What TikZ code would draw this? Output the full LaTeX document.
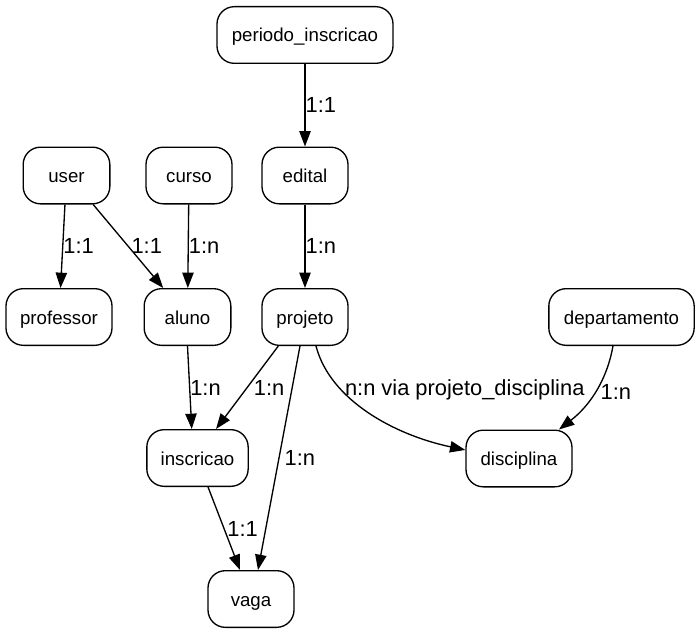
\documentclass[tikz,border=0pt]{standalone}
\usepackage{fontspec}
\setmainfont{Liberation Sans}
\usetikzlibrary{arrows.meta}

\begin{document}
\begin{tikzpicture}[x=0.75pt, y=-0.75pt,
    ent/.style={draw, rounded corners=13pt, line width=1pt, minimum width=64.5pt,
                minimum height=42.5pt, inner xsep=0pt, text height=13pt, text depth=2.5pt,
                font=\fontsize{14}{16}\selectfont},
    arr/.style={-{Triangle[length=11.5pt,width=8.5pt]}, line width=1pt},
    lbl/.style={right, inner sep=0pt, font=\fontsize{16.4}{19}\selectfont}
]
    \useasboundingbox (0,0) rectangle (700,635);

    \node[ent, minimum width=132pt] (per)   at (305,35)    {periodo\_inscricao};
    \node[ent, minimum width=65pt]  (user)  at (66.5,175.5) {user};
    \node[ent]                      (curso) at (189,175.5) {curso};
    \node[ent]                      (edital) at (305,175.5) {edital};
    \node[ent, minimum width=79.5pt] (prof) at (59,317)    {professor};
    \node[ent, minimum width=65pt]  (aluno) at (187.5,317) {aluno};
    \node[ent]                      (proj)  at (305,317)   {projeto};
    \node[ent, minimum width=109pt] (dep)   at (621.5,317) {departamento};
    \node[ent, minimum width=76pt]  (inscr) at (197.5,458) {inscricao};
    \node[ent, minimum width=79.5pt] (disc) at (519,458.5) {disciplina};
    \node[ent]                      (vaga)  at (251,599)   {vaga};

    \draw[arr] (per) -- (edital) node[lbl, midway] {1:1};
    \draw[arr] (edital) -- (proj) node[lbl, midway] {1:n};
    \draw[arr] (user) -- (prof) node[lbl, midway] {1:1};
    \draw[arr] ([xshift=20pt]user.south) -- (aluno) node[lbl, midway, xshift=2pt] {1:1};
    \draw[arr] (curso) -- (aluno) node[lbl, midway] {1:n};
    \draw[arr] (aluno.south) -- ([xshift=-4.3pt]inscr.north) node[lbl, midway] {1:n};
    \draw[arr] ([xshift=-20pt]proj.south) -- ([xshift=13.9pt]inscr.north) node[lbl, midway, xshift=4.5pt] {1:n};
    \draw[arr] ([xshift=-3.75pt]proj.south) -- ([xshift=5.25pt]vaga.north) node[lbl, midway, xshift=3.75pt] {1:n};
    \draw[arr] ([xshift=7.9pt]inscr.south) -- ([xshift=-8.25pt]vaga.north) node[lbl, midway, xshift=2pt] {1:1};
    \draw[arr] ([xshift=8.25pt]proj.south) .. controls +(14,54) and +(-71,-15) .. ([yshift=6.4pt]disc.west)
        node[lbl, pos=.3, xshift=2.5pt] {n:n via projeto\_disciplina};
    \draw[arr] ([xshift=-6.4pt]dep.south) .. controls +(-6,34) and +(31,-24) .. ([xshift=30pt]disc.north)
        node[lbl, pos=.5, xshift=3.5pt] {1:n};
\end{tikzpicture}
\end{document}
